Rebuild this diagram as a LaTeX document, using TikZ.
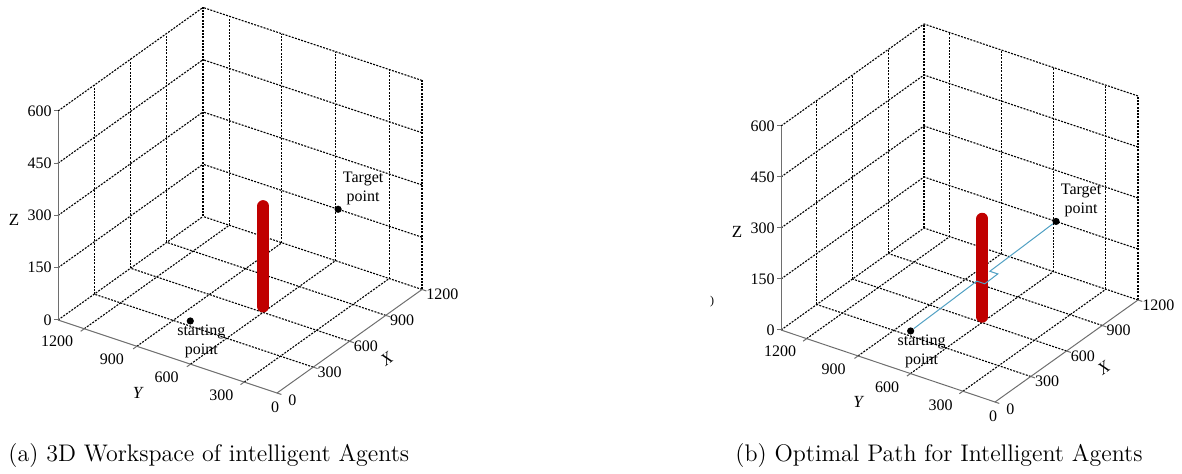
\documentclass[tikz,border=0pt]{standalone}
\usepackage{fontspec}
\newfontfamily\plotfont{Liberation Serif}
\usetikzlibrary{calc}

\definecolor{obstred}{RGB}{192,0,0}
\definecolor{pathblue}{RGB}{80,160,195}
\definecolor{axisgray}{RGB}{110,110,110}

% one MATLAB-like workspace box: grid walls, axes, ticks and tick labels
\newcommand{\workspace}[1]{%
	% floor
	\foreach \a in {0.25,0.5,0.75,1}
	\draw[gridline] (\a,0,0) -- (\a,1,0);
	\foreach \b in {0.15,0.395,0.64,0.88,1}
	\draw[gridline] (0,\b,0) -- (1,\b,0);
	% back wall (Y = 1200)
	\foreach \a in {0.25,0.5,0.75,1}
	\draw[gridline] (\a,1,0) -- (\a,1,1);
	\foreach \c in {0.25,0.5,0.75,1}
	\draw[gridline] (0,1,\c) -- (1,1,\c);
	% side wall (X = 1200)
	\foreach \b in {0,0.15,0.395,0.64,0.88}
	\draw[gridline] (1,\b,0) -- (1,\b,1);
	\foreach \c in {0.25,0.5,0.75,1}
	\draw[gridline] (1,0,\c) -- (1,1,\c);
	% axes
	\coordinate (#1o) at (0,0,0);
	\coordinate (#1x) at (1,0,0);
	\coordinate (#1y) at (0,1,0);
	\coordinate (#1z) at (0,1,1);
	\draw[axisline] (#1y) -- (#1o) -- (#1x);
	\draw[axisline] (#1y) -- (#1z);
	% ticks
	\foreach \c in {0,0.25,0.5,0.75,1}
	\draw[axisline] (0,1,\c) -- ++(-2pt,0pt);
	\foreach \b in {0.15,0.395,0.64,0.88}
	\draw[axisline] (0,\b,0) -- ++(-0.025,0,0);
	\foreach \a in {0,0.25,0.5,0.75,1}
	\draw[axisline] (\a,0,0) -- ++(0,-0.02,0);
	% tick labels
	\foreach \c/\v in {0/0,0.25/150,0.5/300,0.75/450,1/600}
	\node[ticklab,anchor=east,xshift=-2.5pt] (#1zl\v) at (0,1,\c) {\v};
	\foreach \b/\v in {0.25/300,0.5/600,0.75/900,1/1200}
	\node[ticklab,xshift=-0.5pt,yshift=-10.5pt] (#1yl\v) at (0,\b,0) {\v};
	\node[ticklab,xshift=-1pt,yshift=-7pt] (#1yl0) at (0,0,0) {0};
	\foreach \a/\v in {0.25/300,0.5/600,0.75/900,1/1200}
	\node[ticklab,anchor=west,xshift=1.5pt,yshift=-2.5pt] (#1xl\v) at (\a,0,0) {\v};
	\node[ticklab,anchor=west,xshift=5pt,yshift=-3.5pt] (#1xl0) at (0,0,0) {0};
	% axis names
	\node[axlab,xshift=-22pt] (#1zname) at (0,1,0.48) {Z};
	\node[axlab,xshift=-15pt,yshift=-18pt] (#1yname) at (0,0.5,0) {\itshape Y};
	\node[axlab,rotate=36,xshift=10pt,yshift=-18pt] (#1xname) at (0.5,0,0) {\itshape X};
}

\begin{document}
\begin{tikzpicture}[x=0.5pt,y=-0.5pt,
	gridline/.style={line width=0.55pt,dash pattern=on 1pt off 0.65pt},
	axisline/.style={axisgray,line width=0.5pt},
	ticklab/.style={font=\fontsize{8}{9}\plotfont,inner sep=0.5pt},
	axlab/.style={font=\fontsize{8.5}{9}\plotfont,inner sep=0pt},
	ptlab/.style={font=\fontsize{8}{9.5}\plotfont,align=center,inner sep=0pt},
	dot/.style={circle,fill,inner sep=0pt,minimum size=3.6pt},
	obstacle/.style={obstred,line width=6pt,line cap=round},
	pathline/.style={pathblue,line width=0.5pt},
	caption/.style={font=\fontsize{12}{14}\selectfont,anchor=base west,inner sep=0pt}]
	
	\useasboundingbox (0,0) rectangle (1182,474);
	
	% (a) workspace
	\begin{scope}[shift={(277,393)},x={(72.5pt,51.75pt)},
		y={(-109.5pt,36.5pt)},z={(0pt,104.5pt)}]
		\workspace{a}
		\draw[obstacle] (0.54,0.42,0) -- (0.54,0.42,0.48);
		\node[dot] (ast) at (0.284,0.584,0) {};
		\node[dot] (atg) at (1,0.383,0.25) {};
		\node[ptlab,xshift=5.5pt,yshift=-10pt] (astl) at (ast) {starting\\point};
		\node[ptlab,xshift=12.5pt,yshift=10.5pt] (atgl) at (atg) {Target\\point};
	\end{scope}
	
	% (b) optimal path
	\begin{scope}[shift={(995,402)},x={(71.5pt,51pt)},
		y={(-107pt,36pt)},z={(0pt,102pt)}]
		\workspace{b}
		\draw[obstacle] (0.54,0.42,0) -- (0.54,0.42,0.48);
		\node[dot] (bst) at (0.284,0.584,0) {};
		\node[dot] (btg) at (1,0.383,0.25) {};
		\coordinate (bja) at ($(bst)!0.455!(btg)$);
		\coordinate (bjd) at ($(bst)!0.545!(btg)$);
		\coordinate (bjb) at ($(bja)+(0,-0.037,0)$);
		\coordinate (bjc) at ($(bjd)+(0,-0.037,0)$);
		\draw[pathline] (bst) -- (bja) -- (bjb) -- (bjc) -- (bjd) -- (btg);
		\node[ptlab,xshift=5.5pt,yshift=-10pt] (bstl) at (bst) {starting\\point};
		\node[ptlab,xshift=12.5pt,yshift=10.5pt] (btgl) at (btg) {Target\\point};
	\end{scope}
	\node[font=\fontsize{6}{6}\plotfont,inner sep=0pt] (bcut) at (712,302) {)};
	
	% captions
	\node[caption] (capa) at (8,462) {(a) 3D Workspace of intelligent Agents};
	\node[caption] (capb) at (735,462) {(b) Optimal Path for Intelligent Agents};
\end{tikzpicture}
\end{document}
